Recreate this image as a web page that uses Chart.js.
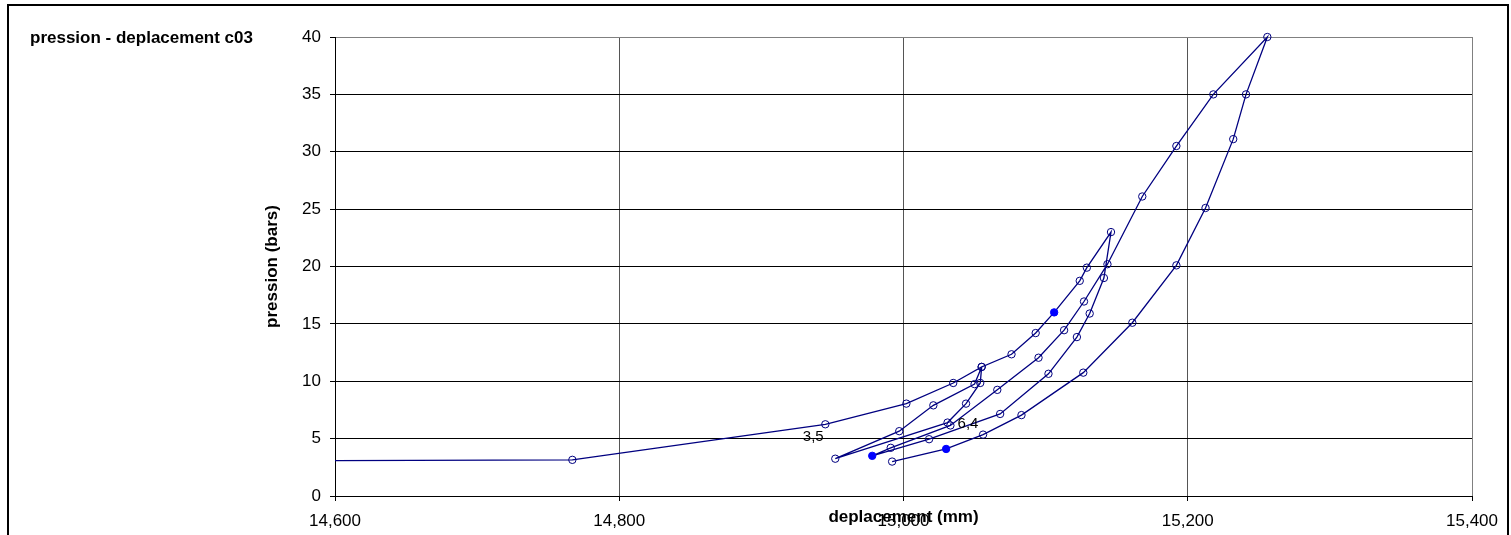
<!DOCTYPE html>
<html>
<head>
<meta charset="utf-8">
<script src="https://cdn.jsdelivr.net/npm/chart.js@4"></script>
<style>
  html, body { margin: 0; padding: 0; background: #fff; overflow: hidden; }
  #wrap { position: relative; width: 1511px; height: 535px; }
  canvas { display: block; }
</style>
</head>
<body>
<div id="wrap"><canvas id="c" width="1511" height="535"></canvas></div>
<script>
// Test c03: pressure vs displacement, in measurement order
// (virgin loading, two unload/reload cycles, final unloading)
const chartTitle = 'pression - deplacement c03';
const xTitle = 'deplacement (mm)';
const yTitle = 'pression (bars)';

const deplacement = [
  14400, 14767, 14945, 15002, 15035, 15055,
  15054, 15044, 15031, 14952,
  14997, 15021, 15050, 15055,
  15076, 15093, 15106, 15124, 15129, 15146,
  15141, 15131, 15122, 15102, 15068, 15018, 14978,
  14991, 15033, 15066, 15095, 15113, 15127, 15143.5,
  15168, 15192, 15218, 15256,
  15241, 15232, 15212.5, 15192, 15161, 15126.5, 15083, 15056, 15030, 14992
];
const pression = [
  3.0, 3.15, 6.25, 8.05, 9.85, 11.25,
  9.85, 8.05, 6.4, 3.25,
  5.65, 7.9, 9.75, 11.25,
  12.35, 14.2, 16.0, 18.75, 19.9, 23.0,
  19.0, 15.9, 13.85, 10.65, 7.15, 4.95, 3.5,
  4.2, 6.15, 9.25, 12.05, 14.45, 16.95, 20.2,
  26.1, 30.5, 35.0, 40.0,
  35.0, 31.1, 25.1, 20.1, 15.1, 10.75, 7.05, 5.35, 4.1, 3.0
];
// readings drawn with a solid marker
const filledPoints = [16, 26, 46];
// readings that carry a value label
const labelledPoints = [8, 26];

const xTicks = [14600, 14800, 15000, 15200, 15400];
const yTicks = [0, 5, 10, 15, 20, 25, 30, 35, 40];

const LINE = '#000080';
const DOT = '#0000FF';
const FONT = '"Liberation Sans", Arial, Helvetica, sans-serif';

Chart.defaults.font.family = FONT;
Chart.defaults.font.size = 17;
Chart.defaults.color = '#000';

const points = deplacement.map((x, i) => ({ x: x, y: pression[i] }));

// outer frame + white background
const framePlugin = {
  id: 'frame',
  beforeDraw(chart) {
    const ctx = chart.ctx;
    ctx.save();
    ctx.fillStyle = '#fff';
    ctx.fillRect(0, 0, chart.width, chart.height);
    ctx.strokeStyle = '#000';
    ctx.lineWidth = 2;
    ctx.strokeRect(8, 5, 1500, 700);
    ctx.restore();
  }
};

// chart title, top-left
const titlePlugin = {
  id: 'cornerTitle',
  afterDraw(chart) {
    const ctx = chart.ctx;
    ctx.save();
    ctx.font = 'bold 17px ' + FONT;
    ctx.fillStyle = '#000';
    ctx.textAlign = 'left';
    ctx.textBaseline = 'middle';
    ctx.fillText(chartTitle, 30, 38);
    ctx.restore();
  }
};

// value labels for selected readings (decimal comma)
const labelPlugin = {
  id: 'valueLabels',
  afterDatasetsDraw(chart) {
    const meta = chart.getDatasetMeta(0);
    const ctx = chart.ctx;
    ctx.save();
    ctx.font = '15px ' + FONT;
    ctx.fillStyle = '#000';
    ctx.textBaseline = 'middle';
    labelledPoints.forEach((idx, k) => {
      const el = meta.data[idx];
      const txt = pression[idx].toFixed(1).replace('.', ',');
      if (k === 0) {
        ctx.textAlign = 'left';
        ctx.fillText(txt, el.x + 10, el.y + 1);
      } else {
        ctx.textAlign = 'center';
        ctx.fillText(txt, el.x - 59, el.y - 19);
      }
    });
    ctx.restore();
  }
};

new Chart(document.getElementById('c'), {
  type: 'scatter',
  data: {
    datasets: [{
      data: points,
      showLine: true,
      borderColor: LINE,
      borderWidth: 1.3,
      pointRadius: 3.7,
      pointBorderWidth: 1,
      pointBorderColor: pression.map((_, i) => filledPoints.includes(i) ? DOT : LINE),
      pointBackgroundColor: pression.map((_, i) => filledPoints.includes(i) ? DOT : 'rgba(0,0,0,0)'),
      clip: { left: 0, top: 6, right: 6, bottom: 6 }
    }]
  },
  options: {
    responsive: false,
    animation: false,
    events: [],
    layout: { padding: { left: 0, top: 37, right: 39, bottom: 0 } },
    plugins: {
      legend: { display: false },
      tooltip: { enabled: false },
      title: { display: false }
    },
    scales: {
      x: {
        type: 'linear',
        position: 'bottom',
        min: xTicks[0],
        max: xTicks[xTicks.length - 1],
        afterBuildTicks: s => { s.ticks = xTicks.map(v => ({ value: v })); },
        afterFit: s => { s.height = 39; },
        ticks: {
          autoSkip: false,
          maxRotation: 0,
          padding: 10,
          color: '#000',
          font: { size: 17 },
          callback: v => Number(v).toLocaleString('en-US')
        },
        grid: {
          color: c => c.tick && c.tick.value === 15400 ? '#808080' : (c.tick && c.tick.value === 14600 ? '#000' : '#555'),
          tickColor: '#000',
          tickLength: 5,
          lineWidth: 1
        },
        border: { color: '#000', width: 1 },
        title: {
          display: true,
          text: xTitle,
          color: '#000',
          font: { size: 17, weight: 'bold', lineHeight: 1.2 },
          padding: { top: 0, bottom: 7 }
        }
      },
      y: {
        type: 'linear',
        min: yTicks[0],
        max: yTicks[yTicks.length - 1],
        afterBuildTicks: s => { s.ticks = yTicks.map(v => ({ value: v })); },
        afterFit: s => { s.width = 335; },
        ticks: {
          padding: 9,
          color: '#000',
          font: { size: 17 }
        },
        grid: {
          color: c => c.tick && c.tick.value === 40 ? '#808080' : '#000',
          tickColor: '#000',
          tickLength: 5,
          lineWidth: 1
        },
        border: { color: '#000', width: 1 },
        title: {
          display: true,
          text: yTitle,
          color: '#000',
          font: { size: 17, weight: 'bold', lineHeight: 1.2 },
          padding: { top: 261.8, bottom: 0 }
        }
      }
    }
  },
  plugins: [framePlugin, titlePlugin, labelPlugin]
});
</script>
</body>
</html>
